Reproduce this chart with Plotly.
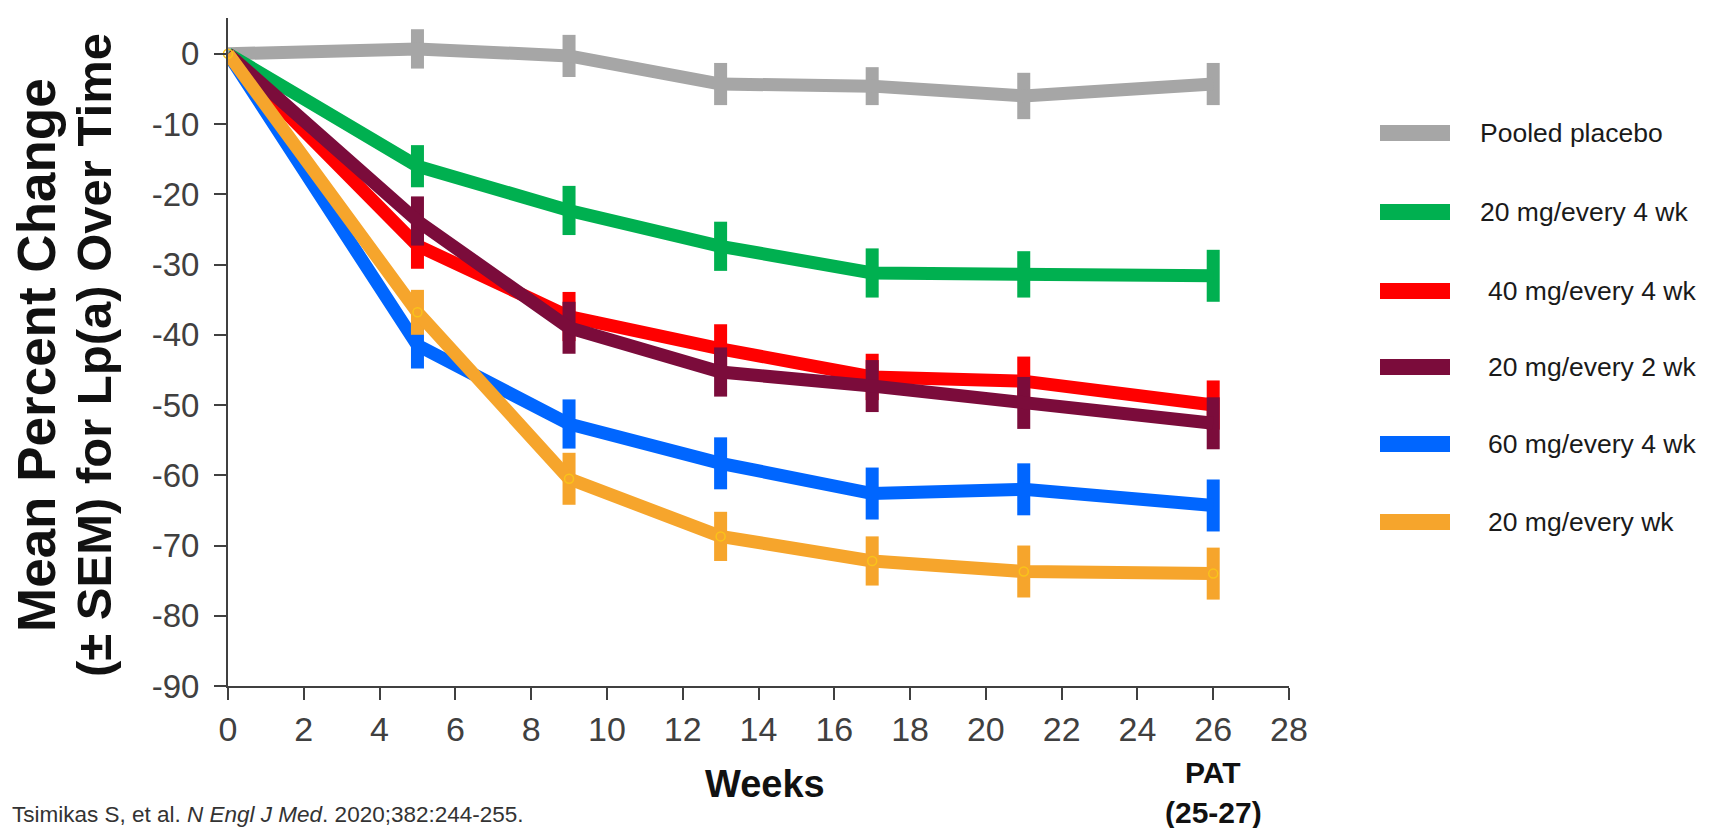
import plotly.graph_objects as go

weeks = [0, 5, 9, 13, 17, 21, 26]

series_names = ["Pooled placebo", "20 mg/every 4 wk", "40 mg/every 4 wk",
                "20 mg/every 2 wk", "60 mg/every 4 wk", "20 mg/every wk"]
series_colors = ["#a6a6a6", "#00b050", "#ff0000", "#7b0c3b", "#0066ff", "#f6a52c"]

placebo = [0, 0.7, -0.3, -4.3, -4.6, -6.0, -4.3]
mg20_q4 = [0, -16.0, -22.3, -27.4, -31.2, -31.4, -31.6]
mg40_q4 = [0, -27.3, -37.4, -42.0, -46.0, -46.6, -50.0]
mg20_q2 = [0, -23.8, -39.0, -45.3, -47.3, -49.7, -52.6]
mg60_q4 = [0, -41.5, -52.7, -58.3, -62.6, -62.0, -64.3]
mg20_q1 = [0, -36.8, -60.5, -68.7, -72.2, -73.7, -74.0]

sem_placebo = [0, 2.8, 3.0, 3.0, 2.7, 3.3, 3.0]
sem_20_q4 = [0, 3.0, 3.5, 3.5, 3.5, 3.3, 3.7]
sem_40_q4 = [0, 3.3, 3.5, 3.5, 3.3, 3.5, 3.5]
sem_20_q2 = [0, 3.5, 3.7, 3.5, 3.7, 3.7, 3.7]
sem_60_q4 = [0, 3.3, 3.5, 3.7, 3.7, 3.7, 3.7]
sem_20_q1 = [0, 3.2, 3.7, 3.5, 3.5, 3.7, 3.7]

values = [placebo, mg20_q4, mg40_q4, mg20_q2, mg60_q4, mg20_q1]
sems = [sem_placebo, sem_20_q4, sem_40_q4, sem_20_q2, sem_60_q4, sem_20_q1]

x_tickvals = list(range(0, 29, 2))
x_ticktext = [str(v) for v in x_tickvals]
y_tickvals = [0, -10, -20, -30, -40, -50, -60, -70, -80, -90]
y_ticktext = ["0", "-10", "-20", "-30", "-40", "-50", "-60", "-70", "-80", "-90"]

W, H = 1720, 828
L, R, T, B = 220, 1281, 10, 678

def px_x(p):
    return (p - L) / (R - L)

def px_y(p):
    return 1 - (p - T) / (B - T)

fig = go.Figure()
for name, color, ys, es in zip(series_names, series_colors, values, sems):
    is_orange = name == "20 mg/every wk"
    fig.add_trace(go.Scatter(
        x=weeks, y=ys, name=name,
        mode="lines+markers" if is_orange else "lines",
        line=dict(color=color, width=13),
        marker=dict(symbol="circle-open", size=9, color="#f9c31a",
                    line=dict(width=1.5, color="#f9c31a")) if is_orange else None,
        error_y=dict(type="data", array=es, visible=True, thickness=13,
                     width=0, color=color),
        cliponaxis=False, showlegend=False, hoverinfo="x+y",
    ))

axis_col = "#404040"
fig.update_layout(
    width=W, height=H,
    margin=dict(l=L, r=W - R, t=T, b=H - B),
    plot_bgcolor="white", paper_bgcolor="white",
    showlegend=False,
    font=dict(family="Liberation Sans, Arial, sans-serif", color=axis_col),
    xaxis=dict(range=[0, 28], tickvals=x_tickvals, ticktext=x_ticktext,
               ticks="outside", ticklen=12, tickwidth=2, tickcolor=axis_col,
               showline=True, linewidth=2, linecolor=axis_col,
               showgrid=False, zeroline=False,
               tickfont=dict(size=34, color=axis_col)),
    yaxis=dict(range=[-90, 5.1], tickvals=y_tickvals, ticktext=y_ticktext,
               ticks="outside", ticklen=12, tickwidth=2, tickcolor=axis_col,
               showline=True, linewidth=2, linecolor=axis_col,
               showgrid=False, zeroline=False, ticklabelstandoff=8,
               tickfont=dict(size=33, color=axis_col)),
)

fam = "Liberation Sans, Arial, sans-serif"
ann = []
ann.append(dict(text="<b>Mean Percent Change</b>",
                xref="paper", yref="paper", x=px_x(29), y=px_y(347),
                xanchor="center", yanchor="middle", textangle=-90, showarrow=False,
                font=dict(size=53, color="#111111", family=fam)))
ann.append(dict(text="<b>(± SEM) for Lp(a) Over Time</b>",
                xref="paper", yref="paper", x=px_x(86), y=px_y(347),
                xanchor="center", yanchor="middle", textangle=-90, showarrow=False,
                font=dict(size=49, color="#111111", family=fam)))
ann.append(dict(text="<b>Weeks</b>", xref="paper", yref="paper",
                x=px_x(757), y=px_y(776), xanchor="center", yanchor="middle",
                showarrow=False, font=dict(size=38, color="#111111")))
ann.append(dict(text="<b>PAT</b>", xref="x", yref="paper",
                x=26, y=px_y(764), xanchor="center", yanchor="middle",
                showarrow=False, font=dict(size=30, color="#111111")))
ann.append(dict(text="<b>(25-27)</b>", xref="x", yref="paper",
                x=26, y=px_y(804), xanchor="center", yanchor="middle",
                showarrow=False, font=dict(size=30, color="#111111")))
ann.append(dict(text="Tsimikas S, et al. <i>N Engl J Med</i>. 2020;382:244-255.",
                xref="paper", yref="paper", x=px_x(2), y=px_y(806),
                xanchor="left", yanchor="middle", showarrow=False,
                font=dict(size=22.5, color="#333333")))

# legend (custom swatches, wide like the reference)
leg_rows = [125, 204, 283, 359, 436, 514]
leg_text_x = [1470, 1470, 1478, 1478, 1478, 1478]
shapes = []
for name, color, ry, tx in zip(series_names, series_colors, leg_rows, leg_text_x):
    shapes.append(dict(type="line", xref="paper", yref="paper",
                       x0=px_x(1372), x1=px_x(1442), y0=px_y(ry), y1=px_y(ry),
                       line=dict(color=color, width=16)))
    ann.append(dict(text=name, xref="paper", yref="paper", x=px_x(tx), y=px_y(ry),
                    xanchor="left", yanchor="middle", showarrow=False,
                    font=dict(size=26.5, color="#1a1a1a", family=fam)))

fig.update_layout(annotations=ann, shapes=shapes)
fig.write_html("out.html")
